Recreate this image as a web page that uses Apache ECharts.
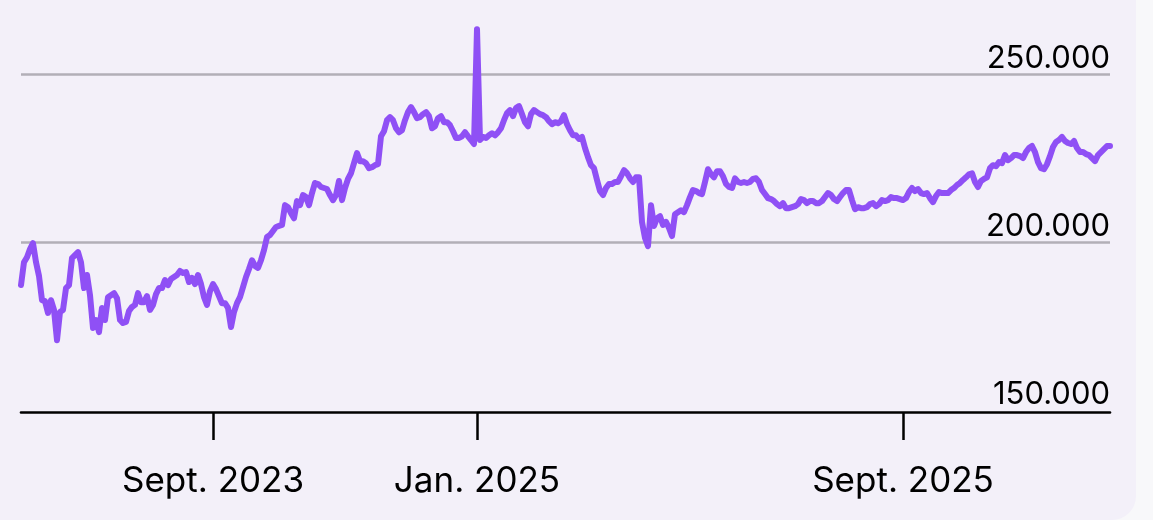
<!DOCTYPE html>
<html><head><meta charset="utf-8">
<script src="https://cdn.jsdelivr.net/npm/echarts@6/dist/echarts.min.js"></script>
<style>
html,body{margin:0;padding:0;width:1153px;height:520px;background:#f8f8fa;overflow:hidden}
#card{position:absolute;left:0;top:0;width:1136px;height:520px;background:#f3f0f9;border-bottom-right-radius:24px}
#chart{position:absolute;left:0;top:0;width:1153px;height:520px}
</style></head><body>
<div id="card"></div><div id="chart"></div>
<script>
// values in thousands
const values = [
187.2,194.0,195.5,197.9,199.7,194.0,189.9,182.7,182.4,178.9,
182.7,179.8,170.8,179.2,179.8,186.3,187.2,195.2,196.1,197.0,
194.0,186.3,190.2,184.2,174.4,176.8,173.2,180.4,176.8,183.6,
184.2,184.8,183.3,176.8,175.9,176.2,179.5,180.7,181.3,184.8,
182.1,182.1,183.9,179.8,181.3,184.5,186.3,186.3,188.7,187.2,
189.0,189.6,190.2,191.4,190.8,191.1,188.1,189.3,187.5,190.2,
187.5,183.6,181.3,185.4,187.5,186.0,183.9,181.8,181.8,180.4,
174.7,179.2,181.8,183.6,186.6,189.6,192.0,194.6,192.9,192.3,
194.6,197.6,201.5,202.1,203.3,204.5,204.8,205.1,211.0,210.4,
208.6,207.1,212.2,211.0,214.0,213.4,211.0,214.6,217.6,217.3,
216.4,216.1,215.8,214.0,212.5,214.0,218.2,212.5,216.1,218.8,
220.5,223.5,226.5,224.1,224.1,223.5,222.0,222.3,222.9,223.2,
231.5,233.0,236.3,237.2,236.3,233.9,232.7,233.3,236.3,238.7,
240.2,238.7,236.9,237.2,238.1,238.7,237.5,233.9,234.5,236.9,
237.5,235.7,235.7,234.8,233.0,231.0,231.0,231.5,232.7,231.5,
230.4,229.2,263.4,230.4,231.3,231.0,231.8,232.4,231.8,232.7,
233.9,236.3,238.4,239.3,237.5,239.9,240.5,238.1,235.7,234.5,
238.1,239.3,238.7,238.1,237.8,237.2,236.0,235.1,235.7,235.4,
236.0,237.8,235.1,233.3,231.8,231.8,230.7,231.3,228.0,225.3,
222.9,222.0,218.5,215.2,214.0,216.1,217.3,217.3,217.9,217.9,
219.6,221.4,220.5,219.0,217.9,219.3,219.3,206.0,201.2,198.8,
211.0,204.8,207.1,207.7,205.1,206.0,204.2,201.8,208.3,208.9,
209.5,208.9,211.0,213.4,215.5,215.2,214.6,214.3,217.9,221.7,
220.2,219.3,221.1,221.1,219.6,217.3,216.4,216.1,219.0,217.9,
217.6,217.9,217.6,217.9,218.8,219.0,217.9,215.5,214.3,213.1,
212.8,212.2,211.3,210.7,211.6,210.1,210.1,210.4,210.7,211.3,
212.8,212.5,211.6,212.2,212.2,211.6,211.6,212.2,213.4,214.6,
214.0,212.8,212.2,213.4,214.6,215.5,215.5,212.5,209.8,210.4,
210.1,210.1,210.4,211.3,211.6,210.7,211.3,212.5,212.2,212.5,
213.4,213.1,213.1,212.8,212.5,213.1,214.9,216.1,215.2,215.8,
214.6,214.3,214.6,213.1,211.9,213.7,214.9,214.6,214.6,214.6,
215.5,216.1,217.0,217.6,218.5,219.3,220.2,220.5,217.9,216.4,
218.2,218.8,219.3,222.0,222.9,222.6,223.8,223.5,225.9,224.4,
225.0,225.9,225.9,225.6,225.0,226.8,228.0,228.6,226.8,223.8,
222.0,221.7,223.2,225.6,228.3,229.8,230.4,231.3,230.1,229.5,
229.2,230.1,228.0,226.8,226.8,226.2,225.9,225.0,224.1,225.9,
226.8,227.7,228.6,228.6
];
const tickIndex = [64, 152, 294];
const tickLabels = ['Sept. 2023', 'Jan. 2025', 'Sept. 2025'];
const yMin = 150, yMax = 270, yStep = 50;

const categories = values.map((_, i) => String(i));
const fmtThousands = v => String(Math.round(v * 1000)).replace(/\B(?=(\d{3})+(?!\d))/g, '.');

const chart = echarts.init(document.getElementById('chart'), null, {renderer: 'canvas'});
chart.setOption({
  backgroundColor: 'transparent',
  animation: false,
  grid: {left: 21, right: 43, top: 7, bottom: 110, containLabel: false},
  xAxis: {
    type: 'category', data: categories, boundaryGap: false, offset: 2,
    axisLine: {lineStyle: {color: '#000', width: 2.6}},
    axisTick: {show: true, length: 28, lineStyle: {color: '#000', width: 2.5},
      interval: (i) => tickIndex.includes(i)},
    axisLabel: {
      interval: (i) => tickIndex.includes(i),
      formatter: (v, i) => { const k = tickIndex.indexOf(Number(v)); return k >= 0 ? tickLabels[k] : ''; },
      color: '#000', fontFamily: 'Inter', fontSize: 35, margin: 52
    },
    splitLine: {show: false}
  },
  yAxis: {
    type: 'value', position: 'right', min: yMin, max: yMax, interval: yStep,
    axisLine: {show: false}, axisTick: {show: false},
    splitLine: {show: true, showMinLine: false, showMaxLine: false,
      lineStyle: {color: '#b2afb7', width: 2.5}},
    axisLabel: {
      inside: true, margin: 0, color: '#000', fontFamily: 'Inter', fontSize: 31,
      verticalAlign: 'bottom', padding: [0, 0, 0, 0], showMaxLabel: false,
      formatter: v => (v % yStep === 0 ? fmtThousands(v) : '')
    }
  },
  series: [{
    type: 'line', data: values, showSymbol: false, symbol: 'none',
    lineStyle: {color: '#8f50f5', width: 6, cap: 'round', join: 'round'},
    itemStyle: {color: '#8f50f5'}
  }]
});
</script>
</body></html>
